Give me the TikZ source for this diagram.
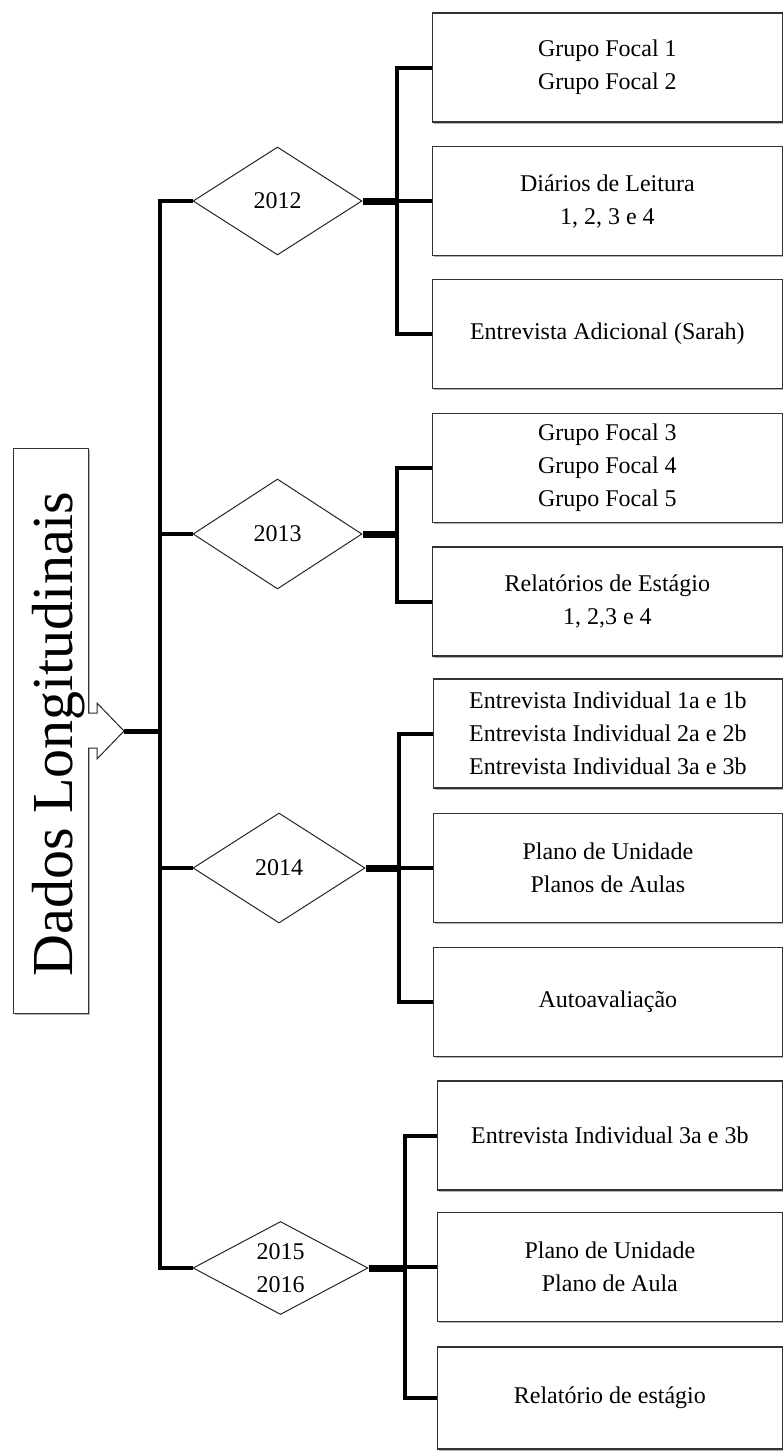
\documentclass[tikz,border=0pt]{standalone}
\usepackage{fontspec}
\setmainfont{Liberation Serif}
\usetikzlibrary{shapes.geometric,shadows}
\begin{document}
\begin{tikzpicture}[x=1pt,y=-1pt,
  databox/.style={draw=black!80, line width=1.2pt, inner sep=0pt, anchor=west, fill=white,
    drop shadow={shadow xshift=1.2pt, shadow yshift=-1.5pt, opacity=0.3, fill=black},
    minimum height=109pt, align=center, font=\fontsize{24}{33}\selectfont},
  yearbox/.style={diamond, aspect=2, draw=black!85, line width=1pt, inner sep=0pt, fill=white,
    align=center, font=\fontsize{24}{33}\selectfont},
  titlebox/.style={draw=black!80, line width=1.2pt, inner sep=0pt, fill=white,
    drop shadow={shadow xshift=1.2pt, shadow yshift=-1.5pt, opacity=0.3, fill=black}},
  trunkline/.style={line width=4pt},
  yearline/.style={line width=7pt},
  blockarrow/.style={draw=black!85, line width=1pt, fill=white, line join=miter}
]
\useasboundingbox (0,0) rectangle (783,1451);

% title
\node[titlebox, minimum width=75pt, minimum height=565pt, anchor=north west] (title) at (13,448) {};
\draw[blockarrow] (88,713) -- (97,713) -- (97,703) -- (124,731) coordinate (tip) -- (97,759) -- (97,748) -- (88,748);
\node[rotate=90, anchor=base, inner sep=0pt, font=\fontsize{58}{58}\selectfont] (titletext) at (72,734) {Dados Longitudinais};

\coordinate (tr) at (160,731);

% 2012
\node[yearbox, minimum width=169pt, minimum height=108pt] (y12) at (277.5,201) {2012};
\node[databox, minimum width=349.5pt] (b121) at (432,67.5) {Grupo Focal 1\\Grupo Focal 2};
\node[databox, minimum width=349.5pt] (b122) at (432,201) {Diários de Leitura\\1, 2, 3 e 4};
\node[databox, minimum width=349.5pt] (b123) at (432,334) {Entrevista Adicional (Sarah)};
\coordinate (s12) at (397,201);

% 2013
\node[yearbox, minimum width=169pt, minimum height=110pt] (y13) at (277.5,534) {2013};
\node[databox, minimum width=349.5pt] (b131) at (432,468) {Grupo Focal 3\\Grupo Focal 4\\Grupo Focal 5};
\node[databox, minimum width=349.5pt] (b132) at (432,601.5) {Relatórios de Estágio\\1, 2,3 e 4};
\coordinate (s13) at (397,534);

% 2014
\node[yearbox, minimum width=172pt, minimum height=110pt] (y14) at (279,868) {2014};
\node[databox, minimum width=348.5pt] (b141) at (433,733.5) {Entrevista Individual 1a e 1b\\Entrevista Individual 2a e 2b\\Entrevista Individual 3a e 3b};
\node[databox, minimum width=348.5pt] (b142) at (433,868) {Plano de Unidade\\Planos de Aulas};
\node[databox, minimum width=348.5pt] (b143) at (433,1002) {Autoavaliação};
\coordinate (s14) at (399,868);

% 2015-2016
\node[yearbox, minimum width=175pt, minimum height=93pt] (y15) at (280.5,1268) {2015\\2016};
\node[databox, minimum width=344.5pt] (b151) at (437,1135.5) {Entrevista Individual 3a e 3b};
\node[databox, minimum width=344.5pt] (b152) at (437,1267) {Plano de Unidade\\Plano de Aula};
\node[databox, minimum width=344.5pt, minimum height=102pt] (b153) at (437,1398) {Relatório de estágio};
\coordinate (s15) at (405,1268);

% trunk
\draw[trunkline] (y12.west) -- (y12.west -| tr) -- (y15.west -| tr) -- (y15.west);
\draw[trunkline] (y13.west) -- (y13.west -| tr);
\draw[trunkline] (y14.west) -- (y14.west -| tr);
\draw[line width=5pt] (tip) -- (tr);

% branches
\foreach \y/\a/\b/\c in {12/b121/b122/b123, 14/b141/b142/b143, 15/b151/b152/b153}{
  \draw[yearline] (y\y.east) -- (s\y);
  \draw[trunkline] (\a.west) -- (\a.west -| s\y) -- (\c.west -| s\y) -- (\c.west);
  \draw[trunkline] (\b.west) -- (\b.west -| s\y);
}
\draw[yearline] (y13.east) -- (s13);
\draw[trunkline] (b131.west) -- (b131.west -| s13) -- (b132.west -| s13) -- (b132.west);
\end{tikzpicture}
\end{document}
